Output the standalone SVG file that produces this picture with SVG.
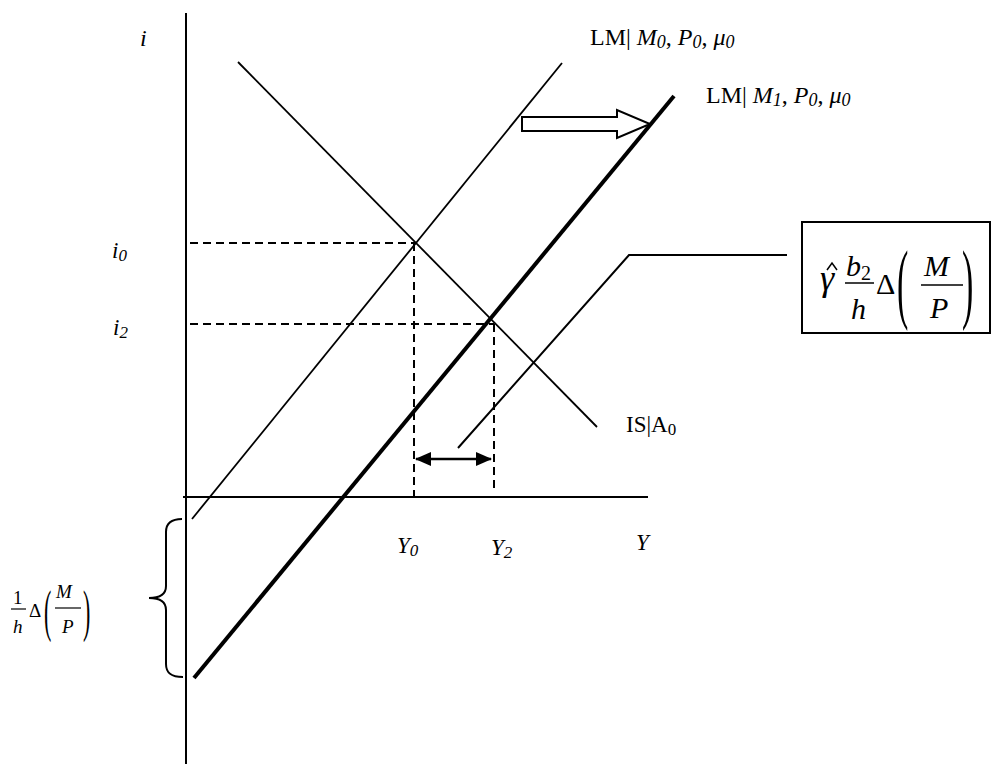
<svg xmlns="http://www.w3.org/2000/svg" width="994" height="764" viewBox="0 0 994 764">
<style>
.t{font-family:"Liberation Serif","Times New Roman",serif;fill:#000}
.i{font-style:italic}
.ln{stroke:#000;fill:none}
.dash{stroke:#000;stroke-width:2;stroke-dasharray:8,5;fill:none}
</style>
<defs>
<marker id="ah" viewBox="0 0 16 14" refX="15" refY="7" markerWidth="16" markerHeight="14" markerUnits="userSpaceOnUse" orient="auto-start-reverse">
<path d="M0,0 L16,7 L0,14 Z" fill="#000"/>
</marker>
</defs>
<rect width="994" height="764" fill="#fff"/>
<g id="axes">
<line class="ln" x1="186" y1="13" x2="186" y2="764" stroke-width="2"/>
<line class="ln" x1="183" y1="497" x2="648" y2="497" stroke-width="2"/>
</g>
<g id="connectors">
<line class="dash" x1="190" y1="243" x2="415" y2="243"/>
<line class="dash" x1="414" y1="243" x2="414" y2="500"/>
<line class="dash" x1="190" y1="324" x2="494" y2="324"/>
<line class="dash" x1="494" y1="324" x2="494" y2="488"/>
<line class="ln" x1="416" y1="459" x2="491" y2="459" stroke-width="2.5" marker-start="url(#ah)" marker-end="url(#ah)"/>
<polyline class="ln" points="458,448 629,255 787,255" stroke-width="2"/>
<polygon points="522,117 617,117 617,110 650,124 617,138 617,131 522,131" fill="#fff" stroke="#000" stroke-width="2"/>
<path class="ln" stroke-width="2" d="M182,519 C170,519 166,524 166,532 L166,586 C166,594 160,598 149,598 C160,598 166,602 166,610 L166,664 C166,672 170,677 183,677"/>
</g>
<g id="LM0">
<line class="ln" x1="192" y1="519" x2="562" y2="63" stroke-width="1.8"/>
<text class="t" x="590" y="45" font-size="24">LM| <tspan class="i">M</tspan><tspan class="i" font-size="18" dy="3">0</tspan><tspan dy="-3">, </tspan><tspan class="i">P</tspan><tspan class="i" font-size="18" dy="3">0</tspan><tspan dy="-3">, </tspan><tspan class="i">μ</tspan><tspan class="i" font-size="18" dy="3">0</tspan></text>
</g>
<g id="LM1">
<line class="ln" x1="194" y1="678" x2="674" y2="96" stroke-width="4"/>
<text class="t" x="706" y="103" font-size="24">LM| <tspan class="i">M</tspan><tspan class="i" font-size="18" dy="3">1</tspan><tspan dy="-3">, </tspan><tspan class="i">P</tspan><tspan class="i" font-size="18" dy="3">0</tspan><tspan dy="-3">, </tspan><tspan class="i">μ</tspan><tspan class="i" font-size="18" dy="3">0</tspan></text>
</g>
<g id="IS">
<line class="ln" x1="238" y1="62" x2="597" y2="427" stroke-width="1.8"/>
<text class="t" x="626" y="432" font-size="23">IS|A<tspan font-size="17" dy="3">0</tspan></text>
</g>
<g id="labels">
<text class="t i" x="140" y="46" font-size="24">i</text>
<text class="t i" x="112" y="258" font-size="23">i<tspan font-size="17" dy="3">0</tspan></text>
<text class="t i" x="113" y="335" font-size="23">i<tspan font-size="17" dy="3">2</tspan></text>
<text class="t i" x="397" y="553" font-size="23">Y<tspan font-size="17" dy="3">0</tspan></text>
<text class="t i" x="491" y="555" font-size="23">Y<tspan font-size="17" dy="3">2</tspan></text>
<text class="t i" x="636" y="550" font-size="23">Y</text>
</g>
<g id="callout">
<rect x="802" y="222" width="188" height="111" fill="#fff" stroke="#000" stroke-width="2"/>
<text class="t i" x="820" y="290" font-size="36">γ</text>
<polyline class="ln" points="827,270 832,263 837,270" stroke-width="1.5"/>
<text class="t i" x="846" y="276" font-size="30">b<tspan font-size="20" font-style="normal" dy="4">2</tspan></text>
<line class="ln" x1="845" y1="283" x2="874" y2="283" stroke-width="1.5"/>
<text class="t i" x="851" y="319" font-size="30">h</text>
<text class="t" x="876" y="294" font-size="30">Δ</text>
<text class="t" x="0" y="0" font-size="34" transform="translate(897,312) scale(1,2.6)">(</text>
<text class="t i" x="924" y="276" font-size="30">M</text>
<line class="ln" x1="921" y1="285" x2="963" y2="285" stroke-width="1.5"/>
<text class="t i" x="930" y="318" font-size="30">P</text>
<text class="t" x="0" y="0" font-size="34" transform="translate(962,312) scale(1,2.6)">)</text>
</g>
<g id="shift-label">
<text class="t" x="13" y="604" font-size="19">1</text>
<line class="ln" x1="11" y1="609" x2="26" y2="609" stroke-width="1.2"/>
<text class="t i" x="13" y="633" font-size="19">h</text>
<text class="t" x="29" y="617" font-size="19">Δ</text>
<text class="t" x="0" y="0" font-size="22" transform="translate(44,630) scale(1,2.6)">(</text>
<text class="t i" x="56" y="598" font-size="19">M</text>
<line class="ln" x1="55" y1="608" x2="81" y2="608" stroke-width="1.2"/>
<text class="t i" x="62" y="633" font-size="19">P</text>
<text class="t" x="0" y="0" font-size="22" transform="translate(83,630) scale(1,2.6)">)</text>
</g>
</svg>
